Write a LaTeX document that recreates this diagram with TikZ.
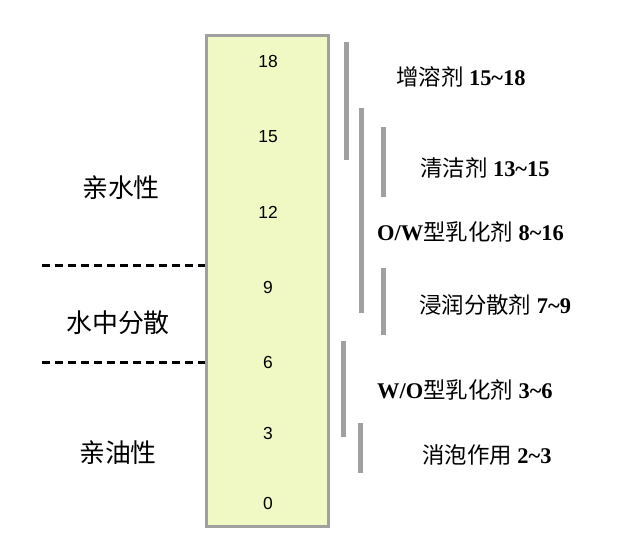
\documentclass[tikz,border=0pt]{standalone}
\usepackage{fontspec}
\setmainfont{Liberation Serif}
\setsansfont{Liberation Sans}
\newfontfamily\cjk{Noto Sans CJK SC}
\usetikzlibrary{positioning}
\definecolor{boxfill}{RGB}{240,248,195}
\definecolor{bargray}{RGB}{160,160,160}
\newcommand{\zh}[1]{{\cjk\mdseries #1}}

\begin{document}
\begin{tikzpicture}[x=1bp, y=-1bp,
  num/.style={font=\sffamily\fontsize{17.5}{20}\selectfont},
  bar/.style={draw=bargray, line width=5bp},
  tag/.style={anchor=west, inner sep=0pt, font=\fontsize{22.5}{26}\selectfont\bfseries},
  side/.style={font=\cjk\fontsize{26}{30}\selectfont},
  sep/.style={draw, line width=3bp, dash pattern=on 8bp off 5bp}]
\useasboundingbox (0,0) rectangle (628,542);

% HLB scale
\node[draw=bargray, line width=3bp, fill=boxfill, inner sep=0pt,
      minimum width=122bp, minimum height=491bp] (scale) at (267.5,281) {};
\node[num] (n18) at (268,62) {18};
\node[num] (n15) at (268,137) {15};
\node[num] (n12) at (268,212) {12};
\node[num] (n9) at (268,287) {9};
\node[num] (n6) at (268,362) {6};
\node[num] (n3) at (268,433) {3};
\node[num] (n0) at (268,503) {0};

% Regions
\node[side] (hydro) at (121,188) {亲水性};
\node[side] (disp) at (118,323) {水中分散};
\node[side] (lipo) at (118,453) {亲油性};
\coordinate (d1) at (42,265);
\coordinate (d2) at (42,362);
\draw[sep] (d1) -- (d1 -| scale.west);
\draw[sep] (d2) -- (d2 -| scale.west);

% Ranges
\draw[bar] (346,42) -- (346,160);
\draw[bar] (361,108) -- (361,313);
\draw[bar] (383,127) -- (383,197);
\draw[bar] (383,268) -- (383,335);
\draw[bar] (343,341) -- (343,437);
\draw[bar] (360,423) -- (360,473);

% Uses
\node[tag] (solub) at (396,77) {\zh{增溶剂} 15\textasciitilde 18};
\node[tag] (deterg) at (420,168) {\zh{清洁剂} 13\textasciitilde 15};
\node[tag] (ow) at (377,232) {O/W\zh{型乳化剂} 8\textasciitilde 16};
\node[tag] (wet) at (419,305) {\zh{浸润分散剂} 7\textasciitilde 9};
\node[tag] (wo) at (377,390) {W/O\zh{型乳化剂} 3\textasciitilde 6};
\node[tag] (defoam) at (422,455) {\zh{消泡作用} 2\textasciitilde 3};
\end{tikzpicture}
\end{document}
